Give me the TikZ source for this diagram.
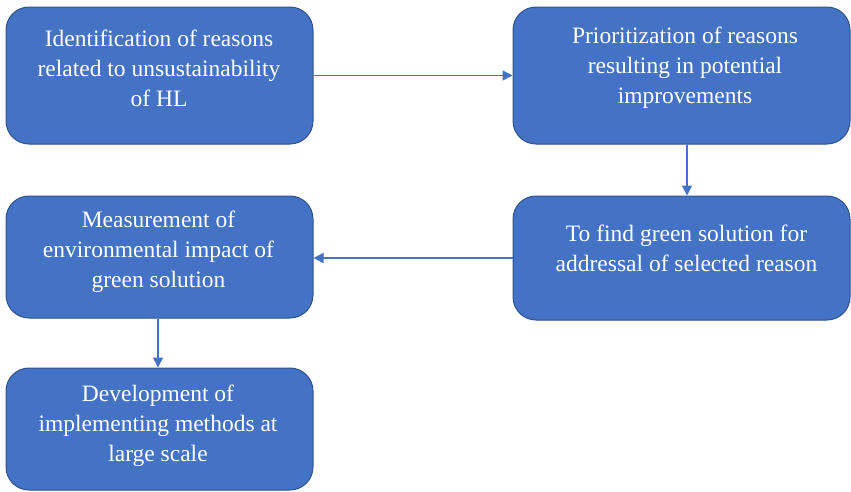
\documentclass[tikz,border=0pt]{standalone}
\usepackage{fontspec}
\setmainfont{Liberation Serif}
\usetikzlibrary{arrows.meta}
\definecolor{boxfill}{HTML}{4472C4}
\definecolor{boxline}{HTML}{2F528F}
\begin{document}
\begin{tikzpicture}[x=1pt,y=1pt,
  box/.style={draw=boxline, line width=1pt, fill=boxfill, rounded corners=23pt, inner sep=0pt},
  txt/.style={text=white, align=center, font=\fontsize{23.5}{30}\selectfont, inner sep=0pt},
  arr/.style={draw=boxfill, line width=1.5pt, -{Triangle[length=10pt,width=10pt]}}]
\useasboundingbox (0,0) rectangle (851,-491);
\node[box, minimum width=307, minimum height=137] (b1) at (159.5,-75.5) {};
\node[box, minimum width=337, minimum height=137] (b2) at (681.5,-75.5) {};
\node[box, minimum width=307, minimum height=122] (b3) at (159.5,-257) {};
\node[box, minimum width=337, minimum height=124] (b4) at (681.5,-258) {};
\node[box, minimum width=307, minimum height=122] (b5) at (159.5,-429) {};
\node[txt] (t1) at (159,-68) {Identification of reasons\\related to unsustainability\\of HL};
\node[txt] (t2) at (685,-68) {Prioritization of reasons\\resulting in potential\\improvements};
\node[txt] (t3) at (158.5,-252) {Measurement of\\environmental impact of\\green solution};
\node[txt] (t4) at (686.5,-248) {To find green solution for\\addressal of selected reason};
\node[txt] (t5) at (158,-426) {Development of\\implementing methods at\\large scale};
\draw[arr] (b1.east) -- (b2.west);
\draw[arr] ([xshift=5.5pt]b2.south) -- ([xshift=5.5pt]b4.north);
\draw[arr] (b4.west) -- (b3.east |- b4.west);
\draw[arr] ([xshift=-1.5pt]b3.south) -- ([xshift=-1.5pt]b5.north);
\end{tikzpicture}
\end{document}
